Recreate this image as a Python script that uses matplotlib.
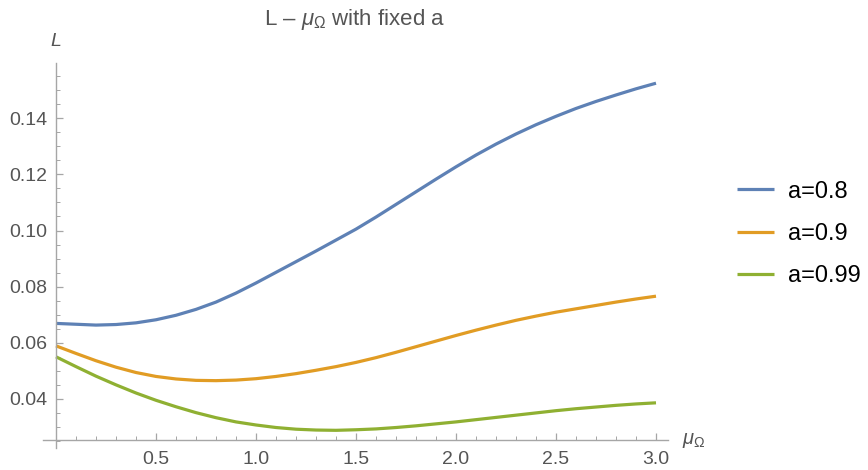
import numpy as np
import matplotlib
matplotlib.use("Agg")
import matplotlib.pyplot as plt
from matplotlib.ticker import MultipleLocator, FixedLocator

plt.rcParams['font.family'] = ['Liberation Sans', 'DejaVu Sans']
plt.rcParams['mathtext.fontset'] = 'custom'
plt.rcParams['mathtext.rm'] = 'Liberation Sans'
plt.rcParams['mathtext.it'] = 'Liberation Sans:italic'

# values (mu_Omega step 0.1)
mu = [0.0, 0.1, 0.2, 0.3, 0.4, 0.5, 0.6, 0.7, 0.8, 0.9, 1.0,
      1.1, 1.2, 1.3, 1.4, 1.5, 1.6, 1.7, 1.8, 1.9, 2.0,
      2.1, 2.2, 2.3, 2.4, 2.5, 2.6, 2.7, 2.8, 2.9, 3.0]
L_a08 = [0.0669, 0.0666, 0.0663, 0.0665, 0.0671, 0.0682, 0.0698, 0.0719, 0.0745, 0.0777, 0.0813,
         0.0851, 0.0889, 0.0927, 0.0966, 0.1005, 0.1048, 0.1093, 0.1138, 0.1183, 0.1227,
         0.1269, 0.1308, 0.1344, 0.1377, 0.1407, 0.1435, 0.1460, 0.1483, 0.1505, 0.1525]
L_a09 = [0.0589, 0.0562, 0.0536, 0.0513, 0.0494, 0.0480, 0.0471, 0.0466, 0.0465, 0.0467, 0.0472,
         0.0480, 0.0490, 0.0502, 0.0515, 0.0530, 0.0547, 0.0566, 0.0586, 0.0606, 0.0626,
         0.0645, 0.0663, 0.0680, 0.0695, 0.0709, 0.0721, 0.0733, 0.0745, 0.0756, 0.0766]
L_a099 = [0.0550, 0.0515, 0.0481, 0.0450, 0.0421, 0.0395, 0.0372, 0.0351, 0.0333, 0.0318, 0.0307,
          0.0298, 0.0292, 0.0289, 0.0288, 0.0290, 0.0293, 0.0298, 0.0304, 0.0311, 0.0318,
          0.0326, 0.0334, 0.0342, 0.0350, 0.0358, 0.0365, 0.0371, 0.0377, 0.0382, 0.0386]
labels = ["a=0.8", "a=0.9", "a=0.99"]
colors = ["#5E81B5", "#E19C24", "#8FB032"]

fig = plt.figure(figsize=(8.68, 4.70), dpi=100)
ax = fig.add_axes([43 / 868, 1 - 448 / 470, 625 / 868, 385 / 470])

lines = []
for ys, lab, c in zip([L_a08, L_a09, L_a099], labels, colors):
    ln, = ax.plot(mu, ys, color=c, lw=2.3, label=lab, solid_capstyle='butt',
                  solid_joinstyle='round')
    lines.append(ln)

ax.set_xlim(-0.065, 3.06)
ax.set_ylim(0.0225, 0.1597)

axcol = '#a6a6a6'
for s in ['top', 'right']:
    ax.spines[s].set_visible(False)
ax.spines['left'].set_position(('data', 0))
ax.spines['bottom'].set_position(('data', 0.0253))
for s in ['left', 'bottom']:
    ax.spines[s].set_color(axcol)
    ax.spines[s].set_linewidth(1.0)

ax.xaxis.set_major_locator(FixedLocator([0.5, 1.0, 1.5, 2.0, 2.5, 3.0]))
ax.xaxis.set_minor_locator(MultipleLocator(0.1))
ax.yaxis.set_major_locator(FixedLocator([0.04, 0.06, 0.08, 0.10, 0.12, 0.14]))
ax.yaxis.set_minor_locator(MultipleLocator(0.005))
ax.xaxis.set_major_formatter(plt.FuncFormatter(lambda v, p: f"{v:.1f}"))
ax.yaxis.set_major_formatter(plt.FuncFormatter(lambda v, p: f"{v:.2f}"))

ax.tick_params(which='both', direction='in', color=axcol, labelcolor='#555555',
               labelsize=14)
ax.tick_params(which='major', length=5, width=0.9)
ax.tick_params(which='minor', length=3, width=0.7)
ax.tick_params(axis='x', pad=8)
ax.tick_params(axis='y', pad=6)

ax.text(0, 0.1675, "$L$", ha='center', va='center', fontsize=14, color='#555555')
ax.text(3.13, 0.0253, r"$\mu_\Omega$", ha='left', va='center', fontsize=14.5,
        color='#555555')

fig.text(355 / 868, 1 - 19 / 470, r"L – $\mu_\Omega$ with fixed a", ha='center',
         va='center', fontsize=16, color='#555555')

fig.legend(handles=lines, loc='center left', bbox_to_anchor=(737 / 868, 1 - 234 / 470),
           frameon=False, fontsize=17, handlelength=1.57, handletextpad=0.6,
           labelspacing=0.86, borderpad=0, borderaxespad=0)

fig.savefig("out.png", dpi=100)
